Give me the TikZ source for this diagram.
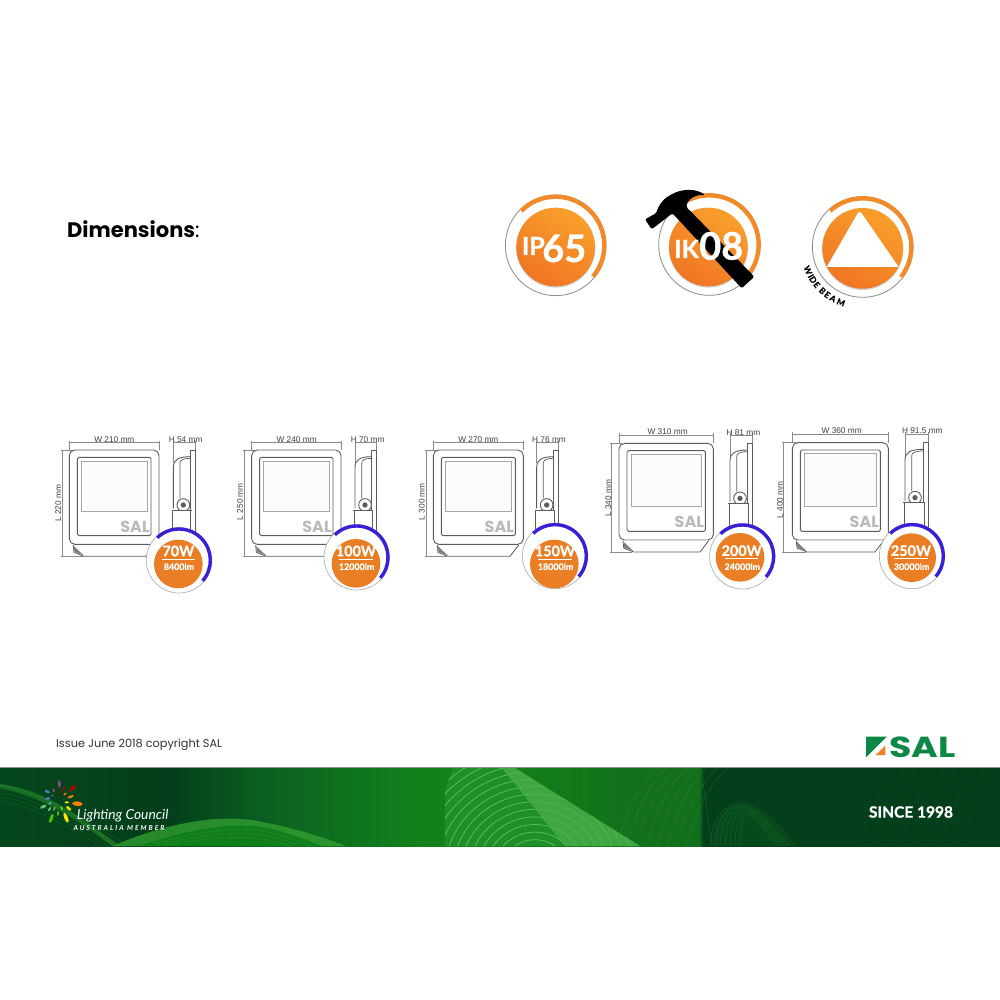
\documentclass[tikz,border=0pt]{standalone}
\usepackage{fontspec}
\usepackage{graphicx}
\setmainfont{Liberation Sans}
\newfontfamily\lato{Lato}
\newfontfamily\heavy[FakeBold=1.0]{Lato Bold}
\newfontfamily\pop{Poppins}
\newfontfamily\spaced[LetterSpace=29]{Lato}
\definecolor{bnA}{HTML}{04461C}
\definecolor{bnB}{HTML}{033F1A}
\definecolor{bnC}{HTML}{0B5E20}
\definecolor{bnD}{HTML}{117E1C}
\definecolor{bnE}{HTML}{148518}
\definecolor{bnF}{HTML}{126F1C}
\definecolor{orTop}{HTML}{F99F2B}
\definecolor{orBot}{HTML}{F07523}
\definecolor{orArc}{HTML}{F28A2A}
\definecolor{orFlat}{HTML}{E97E25}
\definecolor{blueArc}{HTML}{3A1FD6}
\definecolor{fxLine}{HTML}{5A5C5E}
\definecolor{dimLine}{HTML}{8A8A8A}
\definecolor{salGreen}{HTML}{0B8845}
\definecolor{salOrange}{HTML}{F0802A}
\definecolor{stripLine}{HTML}{5FC05A}
\definecolor{fanBase}{HTML}{1F8F2A}
\definecolor{wedge}{HTML}{4CAF4A}
\definecolor{humpEdge}{HTML}{34A332}
\definecolor{humpFill}{HTML}{1A8A22}
\pgfdeclarehorizontalshading{bannershade}{100bp}{
 color(0bp)=(bnA); color(25bp)=(bnA); color(33.5bp)=(bnB); color(38bp)=(bnC);
 color(45bp)=(bnD); color(49bp)=(bnE); color(57bp)=(bnF); color(59.95bp)=(bnF);
 color(60.15bp)=(bnB); color(100bp)=(bnB)}
\tikzset{
 zoomed/.style={x=0.33333pt,y=-0.33333pt},
 dimtext/.style={font=\fontsize{8.3}{10}\selectfont,text=black!75,inner sep=0pt},
 fxstroke/.style={draw=fxLine,line width=0.9pt},
 dimstroke/.style={draw=dimLine,line width=0.5pt},
 discshade/.style={top color=orTop,bottom color=orBot,shading angle=-30},
 wattext/.style={font=\fontsize{14.4}{16}\selectfont\heavy,text=white,inner sep=0pt},
 lmtext/.style={font=\fontsize{8.9}{11}\selectfont\heavy,text=white,inner sep=0pt},
 grayring/.style={draw=black!45,line width=0.8pt},
 orangearc/.style={draw=orArc,line width=4.4pt},
 petaltext/.style={text=white,inner sep=0pt},
}
% l t r b sx sr dimy dimx
\newcommand{\fxbody}[8]{
 \draw[dimstroke] (#1,#7) -- (#3,#7);
 \draw[dimstroke] (#1,#7-6) -- (#1,#2);
 \draw[dimstroke] (#3,#7-6) -- (#3,#2);
 \draw[dimstroke] (#8-4,#2) -- (#1+10,#2);
 \draw[dimstroke] (#8-4,#4+36) -- (#1+40,#4+36);
 \draw[dimstroke] (#8,#2) -- (#8,#4+36);
 \draw[dimstroke] (#5,#7) -- (#6,#7);
 \draw[dimstroke] (#5,#7-6) -- (#5,#2+40);
 \draw[dimstroke] (#6,#7-6) -- (#6,#2);
 \draw[fxstroke,fill=white,rounded corners=5.5pt] (#1,#2) rectangle (#3,#4);
 \draw[fxstroke,rounded corners=1.5pt] (#1+24,#2+22) rectangle (#3-24,#4-26);
 \draw[draw=black!35,line width=0.7pt,fill=black!1] (#1+36,#2+33) rectangle (#3-35,{#2+0.65*(#4-#2)});
 \draw[fxstroke,line width=0.8pt,fill=white] (#1+12,#4+2) -- (#1+14,#4+24) -- (#1+44,#4+36) -- (#3-40,#4+36) -- (#3-14,#4+2);
 \fill[fxLine!80] (#1+14,#4+6) -- (#1+15,#4+22) -- (#1+44,#4+34) -- cycle;
 \node[font=\fontsize{16}{17}\selectfont\pop\bfseries,text=black!27,inner sep=0pt] at (#3-72,#4-53) {SAL};
 \draw[fxstroke,line width=0.7pt] (#6-15,#2) rectangle (#6,#2+255);
 \draw[fxstroke] (#5,#2+175) -- (#5,#2+52) .. controls (#5,#2+30) and (#5+15,#2+20) .. (#6-15,#2+20);
 \draw[fxstroke,line width=0.7pt] (#5+20,#2+145) -- (#5+20,#2+40) .. controls (#5+20,#2+30) and (#5+30,#2+25) .. (#6-15,#2+25);
 \draw[fxstroke,fill=white] (#5+30,#2+165) circle [radius=19];
 \fill[fxLine] (#5+30,#2+165) circle [radius=8];
 \draw[fxstroke] (#5-5,#2+180) -- (#6-10,#2+180);
 \draw[fxstroke,fill=white] (#5-3,#2+180) rectangle (#6-13,#2+270);
}
% ringx ringy discx discy
\newcommand{\fxbadge}[4]{
 \draw[draw=black!30,line width=0.7pt,fill=white] (#1,#2) circle [radius=98];
 \fill[orFlat] (#3,#4) circle [radius=73];
 \draw[blueArc,line width=3.4pt] (#1,#2) ++(-134:94) arc [start angle=-134,end angle=41,radius=94];
}
% x ywat ylm wat lm
\newcommand{\fxwatt}[6]{
 \node[wattext] (#6w) at (#1,#2) {#4};
 \draw[white,line width=0.5pt] (#1-50,#2+24) -- (#1+50,#2+24);
 \node[lmtext] (#6l) at (#1+2,#3) {#5};
}
\newcommand{\petal}[6]{\fill[#6,shift={(#1,#2)},rotate=#5] (0,0) ellipse [x radius=#3/6*1pt,y radius=#4/6*1pt];}
\newcommand{\wlet}[2]{\node[font=\fontsize{8.4}{8}\selectfont\heavy,text=black,inner sep=0pt,rotate=#1-270] at ($(862.7,247)+(-#1:59.5)$) {#2};}
\usetikzlibrary{calc}
\begin{document}
\begin{tikzpicture}[x=1pt,y=-1pt]
\useasboundingbox (0,0) rectangle (1000,1000);
\fill[white] (0,0) rectangle (1000,1000);
\node[anchor=base west,inner sep=0pt,font=\fontsize{21}{24}\selectfont\pop] (title) at (67,237) {\textbf{Dimensions}:};

% ---------- top badges
\begin{scope}[shift={(490,170)},zoomed]
 % IP65
 \fill[black!18] (197,234) circle [radius=119];
 \shade[discshade] (197,231) circle [radius=118];
 \draw[grayring] (197,226) circle [radius=151];
 \draw[orangearc] (197,226) ++(-135:146) arc [start angle=-135,end angle=40,radius=146];
 \node[anchor=base west,inner sep=0pt,font=\fontsize{25}{28}\selectfont\heavy,text=white] (ip) at (95,255) {IP};
 \node[anchor=base west,inner sep=0pt,font=\fontsize{38}{40}\selectfont\heavy,text=white] (n65) at (156,276) {65};
 % IK08
 \fill[black!18] (655,234) circle [radius=119];
 \shade[discshade] (655,231) circle [radius=118];
 \draw[grayring] (658,224) circle [radius=152];
 \draw[orangearc] (658,224) ++(-120:148) arc [start angle=-120,end angle=35,radius=148];
 \fill[black,rounded corners=1.5pt] (465,148) -- (498,130) .. controls (505,110) and (515,90) .. (540,76)
   .. controls (575,55) and (620,55) .. (646,76) .. controls (615,72) and (590,90) .. (590,113)
   -- (600,122) -- (793,320) -- (755,355) -- (568,152) -- (547,130) -- (485,178) -- cycle;
 \node[anchor=base west,inner sep=0pt,font=\fontsize{25}{27}\selectfont\heavy,text=white] (ik) at (552,264) {IK};
 \node[anchor=base west,inner sep=0pt,font=\fontsize{38}{40}\selectfont\heavy,text=white] (n08) at (627,269) {08};
 % wide beam
 \fill[black!18] (1118,238) circle [radius=122];
 \shade[discshade] (1118,235) circle [radius=121];
 \draw[grayring] (1118,231) circle [radius=151];
 \draw[orangearc] (1118,231) ++(-132:146) arc [start angle=-132,end angle=38,radius=146];
 \fill[white] (1010,291) -- (1103,130) .. controls (1106,124) and (1112,124) .. (1115,130) -- (1226,291) -- cycle;
\end{scope}
\foreach \a/\l in {203/W,209.3/I,213.5/D,219.5/E,227.5/B,233.5/E,240/A,248.5/M}{\wlet{\a}{\l}}

% ---------- fixtures
\begin{scope}[shift={(50,425)},zoomed]
 \fxbody{58}{75}{327}{358}{370}{435}{53}{37}
 \node[dimtext] (w1) at (193,43) {W 210 mm};
 \node[dimtext] (h1) at (407,43) {H 54 mm};
 \node[dimtext,rotate=90] (l1) at (25,235) {L 220 mm};
 \fxbadge{387}{406}{385}{417}
 \fxwatt{385}{378}{425}{70W}{8400lm}{a}
\end{scope}
\begin{scope}[shift={(225,425)},zoomed]
 \fxbody{80}{75}{348}{358}{390}{455}{53}{58}
 \node[dimtext] (w2) at (215,43) {W 240 mm};
 \node[dimtext] (h2) at (428,43) {H 70 mm};
 \node[dimtext,rotate=90] (l2) at (45,230) {L 250 mm};
 \fxbadge{395}{397}{393}{415}
 \fxwatt{393}{378}{425}{100W}{12000lm}{b}
\end{scope}
\begin{scope}[shift={(415,425)},zoomed]
 \fxbody{55}{75}{325}{358}{365}{430}{53}{33}
 \node[dimtext] (w3) at (190,43) {W 270 mm};
 \node[dimtext] (h3) at (402,43) {H 76 mm};
 \node[dimtext,rotate=90] (l3) at (20,230) {L 300 mm};
 \fxbadge{420}{393}{418}{417}
 \fxwatt{420}{378}{425}{150W}{18000lm}{c}
\end{scope}
\begin{scope}[shift={(600,420)},zoomed]
 \fxbody{57}{70}{340}{360}{390}{458}{45}{33}
 \node[dimtext] (w4) at (203,35) {W 310 mm};
 \node[dimtext] (h4) at (430,37) {H 81 mm};
 \node[dimtext,rotate=90] (l4) at (25,235) {L 340 mm};
 \fxbadge{427}{409}{420}{412}
 \fxwatt{425}{392}{440}{200W}{24000lm}{d}
\end{scope}
\begin{scope}[shift={(775,420)},zoomed]
 \fxbody{52}{68}{340}{360}{390}{460}{43}{25}
 \node[dimtext] (w5) at (200,33) {W 360 mm};
 \node[dimtext] (h5) at (442,33) {H 91.5 mm};
 \node[dimtext,rotate=90] (l5) at (15,240) {L 400 mm};
 \fxbadge{411}{408}{410}{413}
 \fxwatt{408}{392}{440}{250W}{30000lm}{e}
\end{scope}

% ---------- issue line
\node[anchor=base west,inner sep=0pt,font=\fontsize{11.3}{12}\selectfont\pop,text=black!80] (issue) at (56,747) {Issue June 2018 copyright SAL};

% ---------- SAL logo
\begin{scope}[shift={(500,725)},zoomed]
 \fill[salGreen] (1098,35) -- (1160,35) -- (1098,97) -- cycle;
 \fill[salOrange] (1127,90) -- (1156,62) -- (1156,90) -- cycle;
 \node[anchor=base west,inner sep=0pt,text=salGreen,font=\fontsize{29}{30}\selectfont\pop\bfseries] (sal) at (1168,97) {\scalebox{1.25}[1]{SAL}};
\end{scope}

% ---------- banner
\fill[black!45] (0,767) rectangle (1000,768);
\begin{scope}
 \clip (0,768) rectangle (1000,846);
 \shade[shading=bannershade] (0,768) rectangle (1000,846);
 % left wave lines
 \foreach \d in {0,4,8,12,16}{
  \draw[humpEdge,opacity=0.25,line width=0.5pt] (0,785+\d) .. controls (40,790+\d) and (80,820+\d) .. (130,846+\d);}
 \fill[humpEdge,opacity=0.45] (0,784) .. controls (50,790) and (90,825) .. (120,846) -- (112,846) .. controls (85,825) and (45,796) .. (0,788) -- cycle;
 % hump
 \fill[humpEdge,opacity=0.75] (113,846) .. controls (160,825) and (220,812) .. (262,822) .. controls (295,828) and (325,838) .. (346,846) -- cycle;
 \fill[bnD] (140,846) .. controls (185,830) and (230,822) .. (262,827) .. controls (285,831) and (305,840) .. (322,846) -- cycle;
 \foreach \d in {4,8,12}{
  \draw[humpEdge,opacity=0.5,line width=0.4pt] (140+\d*2,846) .. controls (185,830+\d) and (230,822+\d) .. (262,827+\d) .. controls (285,831+\d) and (305,840+\d) .. (322,846+\d);}
 % fan
 \begin{scope}
  \clip (445,846) -- (445,790) -- (453,768) -- (515,768) -- (640,846) -- cycle;
  \fill[fanBase] (440,768) rectangle (645,846);
  \foreach \r in {18,26,...,130}{
   \draw[stripLine,line width=0.7pt] (535,872) ellipse [x radius=\r,y radius=\r*0.95];}
  \fill[wedge,opacity=0.75] (515,768) -- (640,846) -- (565,846) -- (502,768) -- cycle;
 \end{scope}
 % streaks
 \foreach \x in {617,627,637,647,657,667,677,687}{
  \draw[bnD!70!white,opacity=0.3,line width=0.4pt] (\x,846) .. controls (\x+8,815) and (\x+18,790) .. (\x+40,768);}
 % hump 2
 \fill[bnC,opacity=0.35] (712,846) .. controls (715,800) and (745,782) .. (790,846) -- cycle;
 \foreach \r in {0,5,...,30}{
  \draw[humpEdge,opacity=0.35,line width=0.4pt] (710+\r,846) .. controls (712+\r,805-0.1*\r) and (745,775+\r) .. (795-\r*0.6,846);}
 \draw[bnD,opacity=0.6,line width=0.6pt] (701,768) -- (712,846);
 % right faint arcs
 \foreach \x in {860,870,...,960}{
  \draw[bnC,opacity=0.45,line width=0.4pt] (\x,846) .. controls (\x+8,815) and (\x+20,790) .. (\x+35,768);}
\end{scope}

% lighting council logo
\begin{scope}[shift={(20,770)},zoomed]
 \petal{118}{42}{22}{9}{90}{violet!40!gray}
 \petal{158}{55}{26}{9}{40}{red!75!black}
 \petal{101}{61}{13}{6}{100}{violet!35!gray}
 \petal{131}{57}{13}{5}{60}{red!75!black}
 \petal{115}{66}{11}{4}{85}{red!70!black}
 \petal{82}{65}{17}{9}{-25}{cyan!50!blue!70!gray}
 \petal{152}{80}{20}{7}{20}{orange}
 \petal{135}{72}{12}{5}{40}{orange}
 \petal{97}{77}{10}{5}{-40}{violet!30!gray}
 \petal{172}{101}{31}{14}{-5}{orange}
 \petal{140}{97}{13}{6}{0}{yellow!90!orange}
 \petal{83}{86}{15}{8}{20}{cyan!50!blue!70!gray}
 \petal{90}{100}{12}{5}{20}{cyan!50!gray}
 \petal{70}{110}{20}{9}{25}{green!40!gray!80!white}
 \petal{146}{115}{19}{8}{-40}{yellow!90!orange}
 \petal{89}{117}{14}{6}{55}{green!40!gray!80!white}
 \petal{103}{116}{13}{5}{70}{green!45!gray!80!white}
 \petal{125}{115}{13}{5}{-70}{green!60!yellow!70!gray}
 \petal{94}{145}{29}{10}{70}{green!60!yellow!75!black}
 \petal{114}{130}{15}{6}{88}{green!60!yellow!75!black}
 \petal{138}{143}{32}{11}{-68}{yellow!90!orange}
 \node[anchor=base west,petaltext,font=\fontsize{13.8}{16}\selectfont\lato\itshape] (lc) at (170,148) {Lighting Council};
 \node[anchor=base west,petaltext,font=\fontsize{6.8}{8}\selectfont\spaced\itshape\bfseries] (lm) at (160,180) {AUSTRALIA MEMBER};
\end{scope}
\node[inner sep=0pt,text=white,font=\fontsize{15.5}{17}\selectfont\heavy] (since) at (911,812) {SINCE 1998};
\end{tikzpicture}
\end{document}
